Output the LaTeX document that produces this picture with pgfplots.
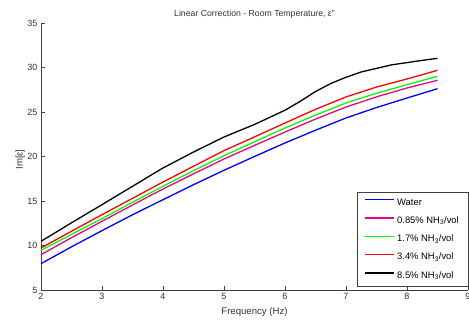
\documentclass[border=0pt]{standalone}
\usepackage{pgfplots}
\pgfplotsset{compat=1.18}
\usepackage{fontspec}
\setmainfont{Liberation Sans}
\begin{document}
\begin{tikzpicture}
\begin{axis}[
  name=ax,
  width=427pt, height=267pt, scale only axis,
  xmin=2, xmax=9, ymin=5, ymax=35,
  xtick={2,3,4,5,6,7,8,9}, ytick={5,10,15,20,25,30,35},
  axis x line*=bottom, axis y line*=left,
  axis line style={-, line width=0.6pt, black!75},
  tick align=inside, major tick length=4pt,
  tick style={black!75, line width=0.6pt},
  /pgf/number format/assume math mode=true,
  tick label style={font=\fontsize{9}{10}\selectfont, text=black!80},
  label style={font=\fontsize{9.6}{11}\selectfont, text=black!80},
  title style={font=\fontsize{8.7}{10}\selectfont, text=black!80, yshift=-5pt},
  title={Linear Correction - Room Temperature, ε''},
  xlabel={Frequency (Hz)},
  ylabel={Im[ε]},
  xlabel style={yshift=-1pt},
  ylabel style={yshift=-4pt, xshift=-3pt},
  legend style={name=leg, at={(1,0.015)}, anchor=south east, font=\fontsize{9.4}{11}\selectfont,
    draw=none, fill=white, row sep=6pt, inner xsep=7pt, inner ysep=4pt},
  legend cell align=left,
  legend image code/.code={\draw[#1, line width=1.4pt] (0pt,2.8pt) -- (29pt,2.8pt);},
  every axis plot/.append style={line width=1.3pt},
]
\addplot[draw=blue] coordinates {(2,7.96)(2.5,9.85)(3,11.67)(3.5,13.45)(4,15.15)(4.5,16.83)(5,18.45)(5.5,20.0)(6,21.52)(6.5,22.95)(7,24.33)(7.5,25.5)(8,26.57)(8.5,27.62)};
\addlegendentry{Water}
\addplot[draw=magenta] coordinates {(2,8.97)(2.5,10.88)(3,12.72)(3.5,14.55)(4,16.35)(4.5,18.05)(5,19.72)(5.5,21.25)(6,22.75)(6.5,24.2)(7,25.56)(7.5,26.7)(8,27.7)(8.5,28.56)};
\addlegendentry{0.85\% NH\textsubscript{3}/vol}
\addplot[draw=green] coordinates {(2,9.46)(2.5,11.25)(3,13.01)(3.5,14.85)(4,16.65)(4.5,18.4)(5,20.09)(5.5,21.65)(6,23.2)(6.5,24.65)(7,26.01)(7.5,27.1)(8,28.07)(8.5,29.01)};
\addlegendentry{1.7\% NH\textsubscript{3}/vol}
\addplot[draw=red] coordinates {(2,9.72)(2.5,11.6)(3,13.46)(3.5,15.3)(4,17.13)(4.5,18.9)(5,20.66)(5.5,22.2)(6,23.76)(6.5,25.3)(7,26.69)(7.5,27.8)(8,28.71)(8.5,29.68)};
\addlegendentry{3.4\% NH\textsubscript{3}/vol}
\addplot[draw=black] coordinates {(2,10.47)(2.5,12.55)(3,14.59)(3.5,16.65)(4,18.71)(4.5,20.5)(5,22.19)(5.5,23.6)(6,25.2)(6.25,26.2)(6.5,27.3)(6.75,28.2)(7,28.9)(7.25,29.5)(7.5,29.9)(7.75,30.3)(8,30.55)(8.25,30.8)(8.5,31.03)};
\addlegendentry{8.5\% NH\textsubscript{3}/vol}
\node[anchor=north east, font=\fontsize{9}{10}\selectfont, text=black!80, inner sep=0pt] at ([xshift=-1pt,yshift=-21pt]rel axis cs:1,0) {x 10\textsuperscript{9}};
\end{axis}
\draw[black!75, line width=0.6pt] (leg.south west) rectangle (leg.north east);
\pgfresetboundingbox
\path[use as bounding box] ([xshift=-41pt,yshift=-34pt]ax.south west) rectangle ([xshift=428pt,yshift=290pt]ax.south west);
\end{tikzpicture}
\end{document}
